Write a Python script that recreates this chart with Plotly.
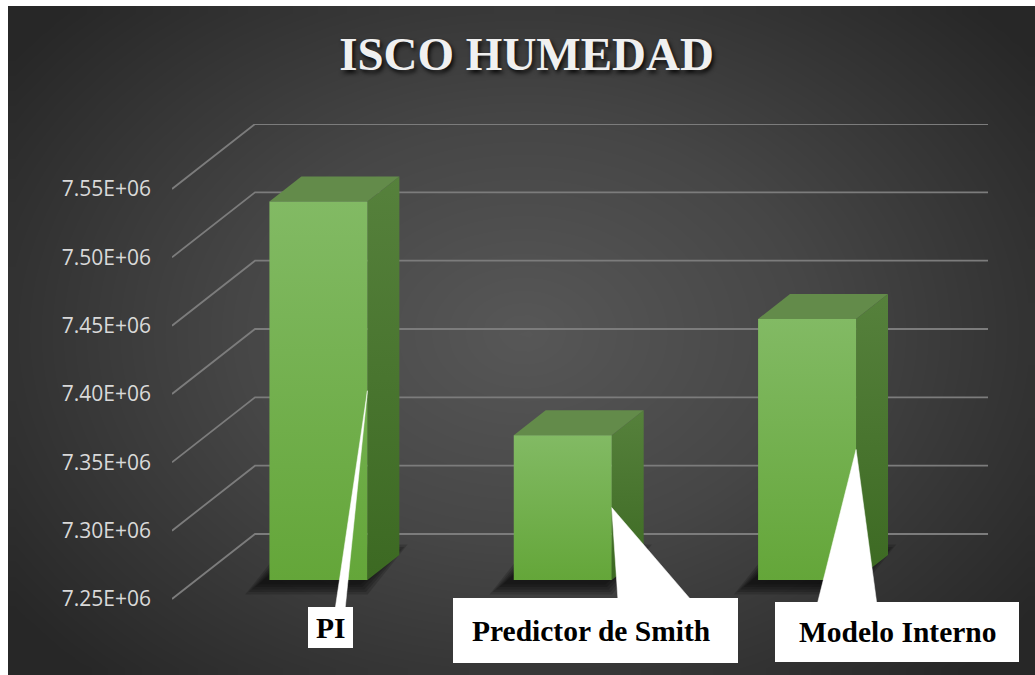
import numpy as np
import plotly.graph_objects as go

# ---- data -------------------------------------------------------------
categories = ["PI", "Predictor de Smith", "Modelo Interno"]
isco_values = [7.527e6, 7.356e6, 7.441e6]
tick_values = [7.25e6, 7.30e6, 7.35e6, 7.40e6, 7.45e6, 7.50e6, 7.55e6]
tick_labels = ["7.25E+06", "7.30E+06", "7.35E+06", "7.40E+06",
               "7.45E+06", "7.50E+06", "7.55E+06"]

# ---- geometry of the oblique 3-D box (page pixels) ----------------------
W, H = 1035, 675
PX_LEFT, PX_RIGHT = 172, 988          # front-left edge .. back-right edge
PX_BOTTOM, PX_TOP = 599, 124          # front floor .. back top
PX_AREA_BOTTOM = 615                  # drawing area reaches below the floor
Y_MIN = 7.25e6
PX_PER_UNIT_Y = 410 / 0.30e6
DEPTH_PX_X, DEPTH_PX_Y = 83, 65       # full depth of the box
PX_PER_CAT = (PX_RIGHT - PX_LEFT - DEPTH_PX_X) / 3
DX = DEPTH_PX_X / PX_PER_CAT           # depth in category units
DY = DEPTH_PX_Y / PX_PER_UNIT_Y        # depth in value units
X_MIN, X_MAX = -0.5, 2.5 + DX
Y_MAX = Y_MIN + (PX_BOTTOM - PX_TOP) / PX_PER_UNIT_Y
Y_LOW = Y_MIN - (PX_AREA_BOTTOM - PX_BOTTOM) / PX_PER_UNIT_Y

BAR_W = 98 / PX_PER_CAT               # bar width in category units
F0 = 19 / 65                          # depth of bar front face (fraction)
FD = 25 / 65                          # bar thickness (fraction of depth)


def px_to_data(px, py):
    return (X_MIN + (px - PX_LEFT) / PX_PER_CAT,
            Y_MIN + (PX_BOTTOM - py) / PX_PER_UNIT_Y)


def dpx_x(p):
    return p / PX_PER_CAT


def dpx_y(p):
    return p / PX_PER_UNIT_Y


fig = go.Figure()

# ---- radial background (cells exactly fill the unit square) -------------
NX, NY = 70, 50
gx = (np.arange(NX) + 0.5) / NX
gy = (np.arange(NY) + 0.5) / NY
GX, GY = np.meshgrid(gx, gy)
cx, cy = 520 / W, 1 - 330 / H
dist = np.sqrt(((GX - cx) * W / 640) ** 2 + ((GY - cy) * H / 470) ** 2)
dist = np.clip(dist, 0, 1)
fig.add_trace(go.Heatmap(
    x=gx, y=gy, z=dist, zmin=0, zmax=1, zsmooth="best", showscale=False,
    colorscale=[[0, "#575757"], [0.45, "#464646"], [1, "#272727"]],
    hoverinfo="skip", xaxis="x", yaxis="y"))

AX2 = dict(xaxis="x2", yaxis="y2", hoverinfo="skip", showlegend=False)

# ---- gridlines: left wall diagonal + back wall horizontal --------------
gxs, gys = [], []
for v in tick_values:
    gxs += [X_MIN, X_MIN + DX, X_MAX, None]
    gys += [v, v + DY, v + DY, None]
fig.add_trace(go.Scatter(x=gxs, y=gys, mode="lines",
                         line=dict(color="#7c7c7c", width=1.8), **AX2))

# ---- bars --------------------------------------------------------------
tips = []
for i, v in enumerate(isco_values):
    xl = i - BAR_W / 2 + F0 * DX
    xr = i + BAR_W / 2 + F0 * DX
    yb = Y_MIN + F0 * DY
    yt = v + F0 * DY
    ddx, ddy = FD * DX, FD * DY

    # soft floor shadow
    cxs, cys = (xl + xr + ddx) / 2, yb + ddy / 2
    for k in range(5):
        e = 1 + 0.05 * (k + 1)
        sx, sy = -dpx_x(8), -dpx_y(2)
        poly_x = [xl, xr, xr + ddx, xl + ddx, xl]
        poly_y = [yb, yb, yb + ddy, yb + ddy, yb]
        px_ = [cxs + (p - cxs) * e + sx for p in poly_x]
        py_ = [cys + (p - cys) * (1 + 0.2 * (k + 1)) + sy for p in poly_y]
        fig.add_trace(go.Scatter(x=px_, y=py_, mode="lines", fill="toself",
                                 fillcolor="rgba(0,0,0,0.17)",
                                 line=dict(width=0), **AX2))

    # side face
    fig.add_trace(go.Scatter(
        x=[xr, xr + ddx, xr + ddx, xr, xr],
        y=[yb, yb + ddy, yt + ddy, yt, yb],
        mode="lines", fill="toself", line=dict(width=0),
        fillgradient=dict(type="vertical",
                          colorscale=[[0, "#3c6922"], [1, "#56813c"]]),
        **AX2))
    # top face
    fig.add_trace(go.Scatter(
        x=[xl, xr, xr + ddx, xl + ddx, xl],
        y=[yt, yt, yt + ddy, yt + ddy, yt],
        mode="lines", fill="toself", line=dict(width=0),
        fillcolor="#638b4a", **AX2))
    # front face
    fig.add_trace(go.Scatter(
        x=[xl, xr, xr, xl, xl],
        y=[yb, yb, yt, yt, yb],
        mode="lines", fill="toself", line=dict(width=0),
        fillgradient=dict(type="vertical",
                          colorscale=[[0, "#64a639"], [1, "#82ba64"]]),
        **AX2))
    tips.append((xr, yb + (v - Y_MIN) / 2))

# ---- callouts ----------------------------------------------------------
callouts = [
    dict(box=(308, 607, 353, 648), base=(335, 345), text_xy=(330.5, 628)),
    dict(box=(453, 598, 738, 663), base=(618, 692), text_xy=(591, 631)),
    dict(box=(775, 602, 1019, 662), base=(817, 877), text_xy=(897, 632)),
]
shapes = []
annotations = []
for name, c, tip in zip(categories, callouts, tips):
    x0, y0, x1, y1 = c["box"]
    b0 = px_to_data(c["base"][0], y0 + 3)
    b1 = px_to_data(c["base"][1], y0 + 3)
    fig.add_trace(go.Scatter(
        x=[tip[0], b1[0], b0[0], tip[0]], y=[tip[1], b1[1], b0[1], tip[1]],
        mode="lines", fill="toself", fillcolor="white",
        line=dict(width=0.5, color="white"), **AX2))
    shapes.append(dict(type="rect", xref="paper", yref="paper",
                       x0=x0 / W, x1=x1 / W, y0=1 - y1 / H, y1=1 - y0 / H,
                       fillcolor="white", line=dict(width=0), layer="above"))
    annotations.append(dict(
        text="<b>%s</b>" % name, xref="paper", yref="paper",
        x=c["text_xy"][0] / W, y=1 - c["text_xy"][1] / H,
        xanchor="center", yanchor="middle", showarrow=False,
        font=dict(family="Liberation Serif", size=29.5, color="black")))

fig.update_layout(
    width=W, height=H,
    margin=dict(l=0, r=0, t=0, b=0, pad=0, autoexpand=False),
    paper_bgcolor="white",
    plot_bgcolor="rgba(0,0,0,0)",
    showlegend=False,
    title=dict(text="<b>ISCO HUMEDAD</b>", xref="paper", yref="paper",
               x=526.5 / W, y=1 - 54 / H, xanchor="center", yanchor="middle",
               automargin=False,
               font=dict(family="Liberation Serif", size=47, color="#f0f0f0",
                         shadow="2px 3px 4px rgba(0,0,0,0.85)")),
    xaxis=dict(domain=[8 / W, 1], range=[0, 1], visible=False,
               fixedrange=True, automargin=False),
    yaxis=dict(domain=[0, 1 - 6 / H], range=[0, 1], visible=False,
               fixedrange=True, automargin=False),
    xaxis2=dict(domain=[PX_LEFT / W, PX_RIGHT / W], range=[X_MIN, X_MAX],
                anchor="y2", visible=False, fixedrange=True,
                automargin=False),
    yaxis2=dict(domain=[1 - PX_AREA_BOTTOM / H, 1 - PX_TOP / H],
                range=[Y_LOW, Y_MAX], anchor="x2",
                tickvals=tick_values, ticktext=tick_labels,
                showgrid=False, zeroline=False, showline=False, ticks="",
                ticklabelstandoff=20, fixedrange=True, automargin=False,
                tickfont=dict(family="Open Sans", size=21, color="#d9d9d9")),
    shapes=shapes,
    annotations=annotations,
)

fig.write_html("out.html", config={"staticPlot": True, "displayModeBar": False})
